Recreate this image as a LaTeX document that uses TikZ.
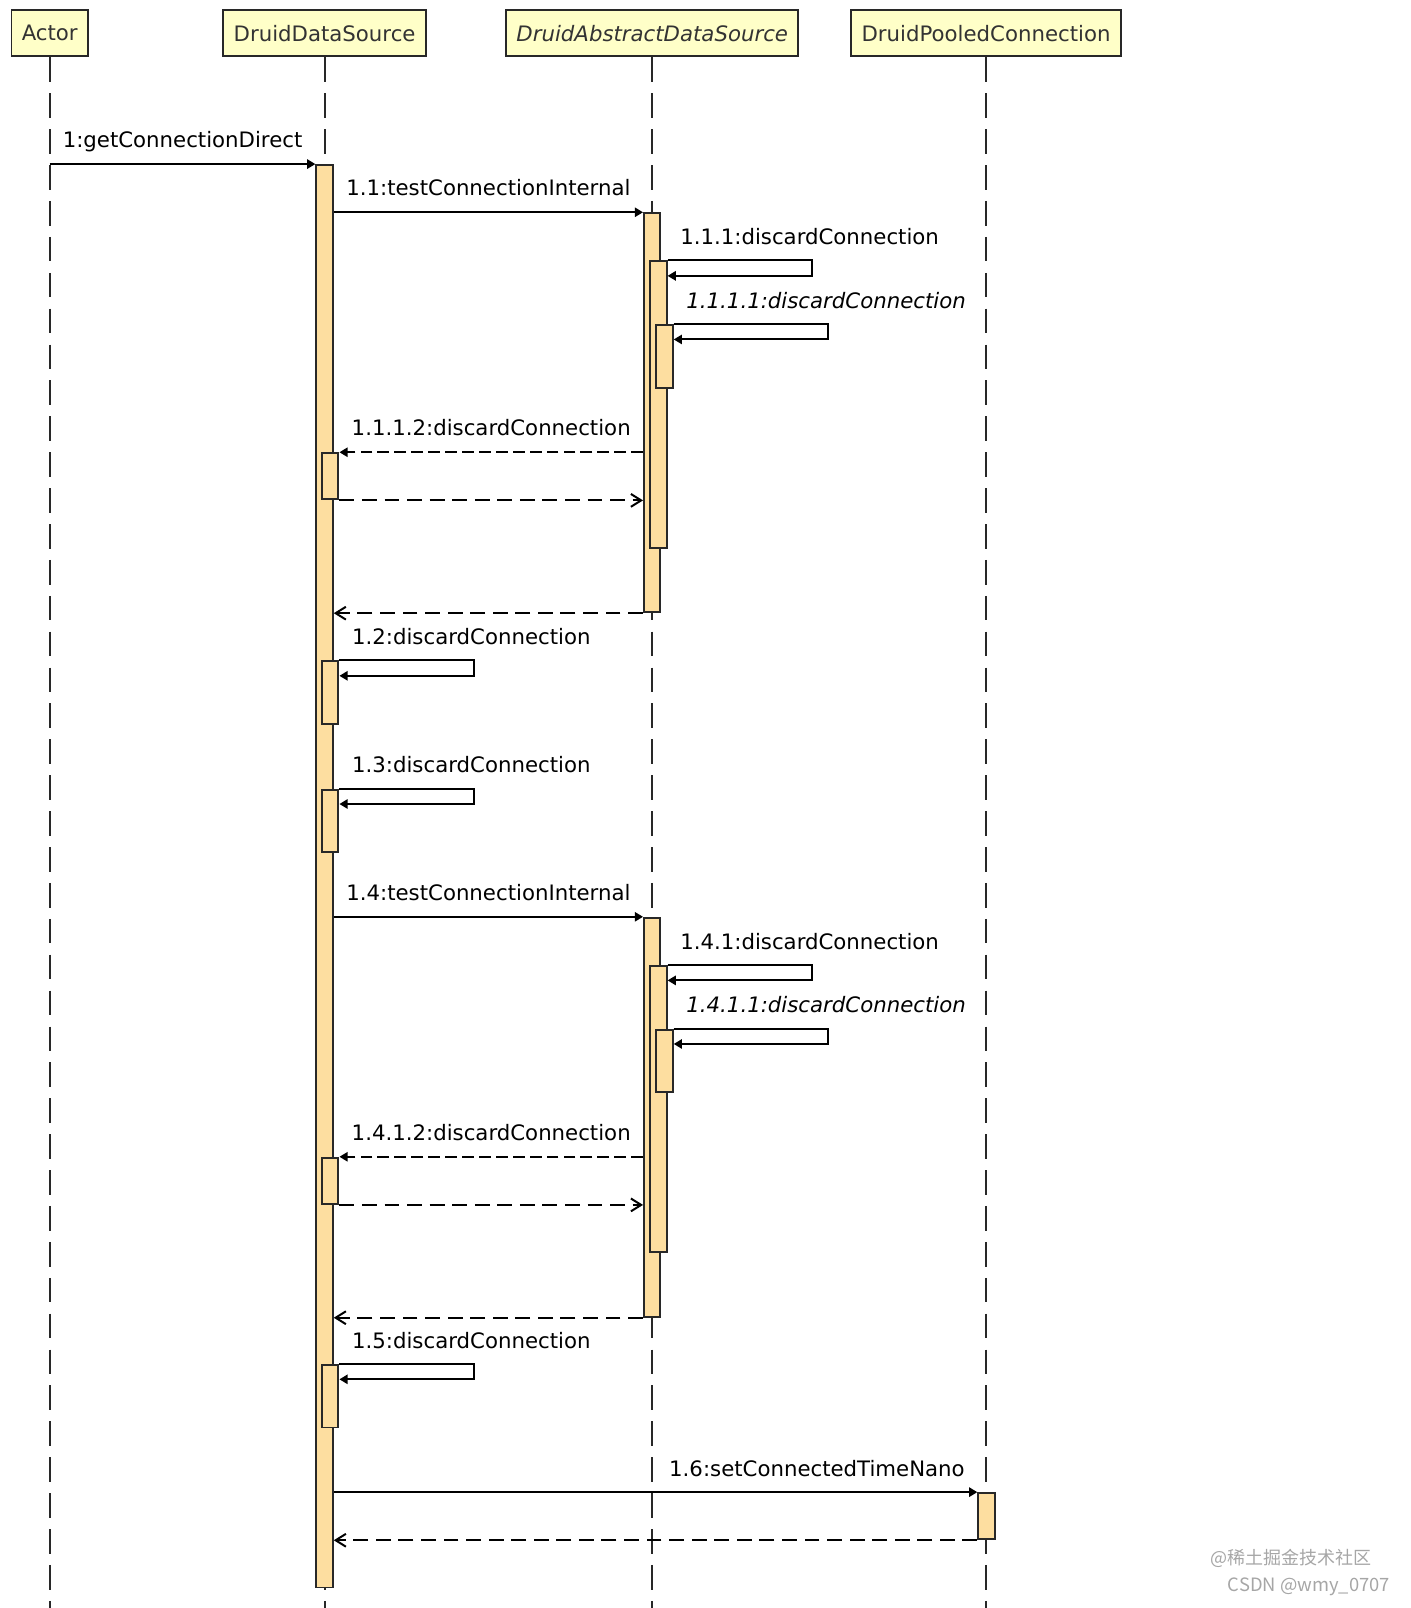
\documentclass[tikz,border=0pt]{standalone}
\usepackage{fontspec}
\newfontfamily\umlfont{DejaVu Sans}[ItalicFont={DejaVu Sans Oblique}]
\newfontfamily\cjkfont{Noto Sans CJK SC}
\definecolor{headfill}{RGB}{255, 255, 200}
\definecolor{barfill}{RGB}{253, 222, 160}
\definecolor{umlline}{RGB}{40, 40, 40}
\usetikzlibrary{arrows.meta, positioning}

\begin{document}
\begin{tikzpicture}[x=0.2mm, y=-0.2mm,
  headbox/.style={draw=umlline, line width=1.1pt, fill=headfill, minimum height=9mm, inner xsep=2mm, font=\umlfont\fontsize{11.8}{14}\selectfont, text=black!80},
  lifeline/.style={draw=umlline, line width=1.1pt, dash pattern=on 4.8mm off 2.2mm},
  actbar/.style={draw=umlline, line width=1.1pt, fill=barfill, minimum width=3.2mm, inner sep=0pt, anchor=north},
  call/.style={draw=black, line width=1.1pt, -{Triangle[length=1.6mm, width=1.8mm]}},
  callback/.style={call, dash pattern=on 2.3mm off 1mm},
  reply/.style={draw=black, line width=1.1pt, dash pattern=on 2.9mm off 1.5mm, -{Straight Barb[length=2mm, width=2.5mm]}},
  msglabel/.style={font=\umlfont\fontsize{11.8}{14}\selectfont, inner sep=2pt, text height=9pt, text depth=3pt}
]
  \useasboundingbox (0,0) rectangle (1375,1568);
  \coordinate (bottom) at (0,1568);

  % lifelines
  \node[headbox] (actor) at (48.5,32.5) {Actor};
  \node[headbox] (dds) at (316.5,32.5) {DruidDataSource};
  \node[headbox] (dads) at (636,32.5) {\itshape DruidAbstractDataSource};
  \node[headbox] (dpc) at (961.5,32.5) {DruidPooledConnection};
  \foreach \h in {actor, dds, dads, dpc}
    \draw[lifeline] (\h.south) -- (\h |- bottom);

  % main activation
  \node[actbar, minimum height=277.4mm] (ddsA) at (316.5,160) {};
  \draw[call] (actor |- ddsA.north) -- node[msglabel, above=3.6pt] {1:getConnectionDirect} (ddsA.north west);

  % testConnectionInternal blocks
  \foreach \k/\dy in {1/0, 4/687} {
    \node[actbar, minimum height=77.8mm] (dadsA\k) at (636,207+\dy) {};
    \node[actbar, minimum height=55.8mm] (dadsB\k) at (642,254+\dy) {};
    \node[actbar, minimum height=12.2mm] (dadsC\k) at (648,316+\dy) {};
    \node[actbar, minimum height=9mm] (ddsB\k) at (322,441+\dy) {};
    \draw[call] (ddsA.east |- dadsA\k.north) -- node[msglabel, above=3.6pt] {1.\k:testConnectionInternal} (dadsA\k.north west);
    \draw[call] (dadsB\k.north east) -- ++(141,0) |- ([yshift=-3mm]dadsB\k.north east);
    \node[msglabel, above right=3.6pt and 1.7mm of dadsB\k.north east] {1.\k.1:discardConnection};
    \draw[call] (dadsC\k.north east) -- ++(150,0) |- ([yshift=-3mm]dadsC\k.north east);
    \node[msglabel, above right=3.6pt and 1.7mm of dadsC\k.north east] {\itshape 1.\k.1.1:discardConnection};
    \draw[callback] (dadsA\k.west |- ddsB\k.north) -- node[msglabel, above=3.6pt] {1.\k.1.2:discardConnection} (ddsB\k.north east);
    \draw[reply] (ddsB\k.south east) -- (dadsA\k.west |- ddsB\k.south);
    \draw[reply] (dadsA\k.south west) -- (ddsA.east |- dadsA\k.south);
  }

  % self calls on DruidDataSource
  \foreach \k/\y in {2/644, 3/769, 5/1330} {
    \node[actbar, minimum height=12.2mm] (ddsC\k) at (322,\y) {};
    \draw[call] (ddsC\k.north east) -- ++(131,0) |- ([yshift=-3mm]ddsC\k.north east);
    \node[msglabel, above right=3.6pt and 1.7mm of ddsC\k.north east] {1.\k:discardConnection};
  }

  % setConnectedTimeNano
  \node[actbar, minimum height=9mm] (dpcA) at (962,1455) {};
  \draw[call] (ddsA.east |- dpcA.north) -- (dpcA.north west);
  \node[msglabel, above left=3.6pt and 1.7mm of dpcA.north west] {1.6:setConnectedTimeNano};
  \draw[reply] (dpcA.south west) -- (ddsA.east |- dpcA.south);

  % watermark
  \node[font=\cjkfont\fontsize{10}{12}\selectfont, text=gray!70, anchor=west, inner sep=0pt] (mark) at (1180,1520) {@稀土掘金技术社区};
  \node[font=\cjkfont\fontsize{10.2}{12}\selectfont, text=gray!70, anchor=west, inner sep=0pt] (credit) at (1197,1547) {CSDN @wmy\_0707};
\end{tikzpicture}
\end{document}
